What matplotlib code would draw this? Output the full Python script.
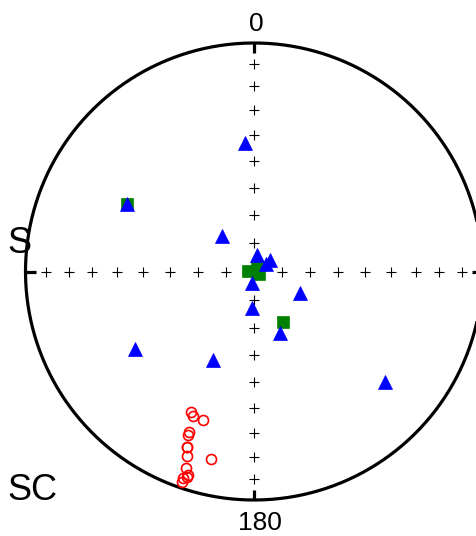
import numpy as np
import matplotlib
matplotlib.use("Agg")
import matplotlib.pyplot as plt

plt.rcParams['font.family'] = ['Liberation Sans', 'DejaVu Sans']

# Directions as declination / inclination (degrees)
tri_dec = [356, 298, 318, 11, 53, 59, 191, 115, 183, 157, 237, 205, 130]
tri_inc = [43, 37, 73, 84, 83, 85, 86, 72, 77, 66, 38, 55, 26]
sq_dec = [298, 274, 29, 120, 150]
sq_inc = [37, 88, 88, 88, 69]
circ_dec = [204, 203, 199, 202, 202, 201, 201, 200, 193, 199, 198, 198, 199, 199]
circ_inc = [-33, -32, -32, -25, -24, -19, -19, -15, -17, -10, -7, -6, -3, -5]

grid_incs = [10, 20, 30, 40, 50, 60, 70, 80, 90]
dir_labels = ["0", "180"]
left_labels = ["S", "SC"]


def project(dec, inc):
    dec = np.radians(np.asarray(dec, float))
    inc = np.abs(np.asarray(inc, float))
    r = np.sqrt(2) * np.sin(np.radians(90 - inc) / 2)
    return r * np.sin(dec), r * np.cos(dec)


W, H, DPI = 477, 536, 100
cx, cy, R = 254, 271.5, 228.5
fig = plt.figure(figsize=(W / DPI, H / DPI), dpi=DPI)
ax = fig.add_axes([0, 0, 1, 1])
ax.set_xlim(-cx / R, (W - cx) / R)
ax.set_ylim((cy - H) / R, cy / R)
ax.axis('off')

# primitive circle
t = np.linspace(0, 2 * np.pi, 721)
ax.plot(np.cos(t), np.sin(t), color='black', lw=2.3, zorder=2,
        solid_capstyle='butt')
# cardinal ticks
tl = 0.045
for d in [0, 90, 180, 270]:
    a = np.radians(d)
    ax.plot([np.sin(a), (1 - tl) * np.sin(a)], [np.cos(a), (1 - tl) * np.cos(a)],
            color='black', lw=2.3, zorder=2, solid_capstyle='butt')

# grid crosses along axes
for d in [0, 90, 180, 270]:
    gx, gy = project([d] * len(grid_incs), grid_incs)
    ax.plot(gx, gy, '+', color='black', ms=7, mew=0.8, zorder=3)

sx, sy = project(sq_dec, sq_inc)
ax.plot(sx, sy, 's', color='#008000', ms=8.6, mec='#008000', mew=0.5,
        linestyle='none', zorder=4)
tx, ty = project(tri_dec, tri_inc)
ax.plot(tx, ty, '^', color='#0000ff', ms=9.4, mec='#0000ff', mew=0.5,
        linestyle='none', zorder=5)
ox, oy = project(circ_dec, circ_inc)
ax.plot(ox, oy, 'o', mfc='none', mec='#ff0000', ms=7.2, mew=1.2,
        linestyle='none', zorder=6)


def px(x):
    return (x - cx) / R


def py(y):
    return (cy - y) / R


ax.text(px(256), py(31), dir_labels[0], fontsize=19, ha='center', va='baseline')
ax.text(px(260), py(530), dir_labels[1], fontsize=19, ha='center', va='baseline')
ax.text(px(7), py(253), left_labels[0], fontsize=26, ha='left', va='baseline')
ax.text(px(7), py(500), left_labels[1], fontsize=26, ha='left', va='baseline')

fig.savefig("out.png", dpi=DPI)
